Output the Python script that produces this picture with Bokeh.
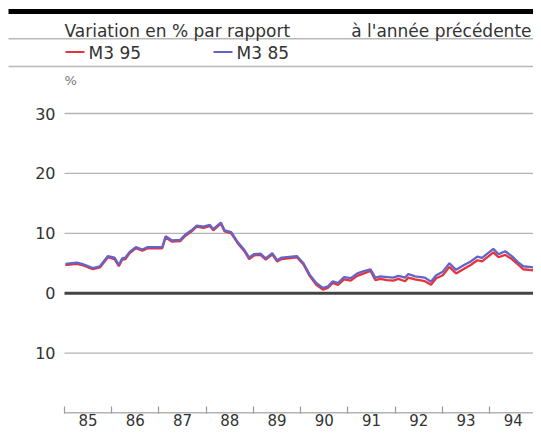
from bokeh.plotting import figure
from bokeh.models import Range1d, FixedTicker
from bokeh.core.properties import value
from bokeh.embed import file_html
from bokeh.resources import INLINE

# ---------------- data ----------------
years = [1985.02, 1985.26, 1985.37, 1985.60, 1985.75, 1985.92, 1986.06, 1986.15, 1986.22, 1986.29,
         1986.38, 1986.51, 1986.65, 1986.76, 1987.07, 1987.14, 1987.28, 1987.45, 1987.56, 1987.69,
         1987.80, 1987.94, 1988.08, 1988.15, 1988.31, 1988.39, 1988.53, 1988.67, 1988.81, 1988.91,
         1989.01, 1989.15, 1989.26, 1989.40, 1989.50, 1989.60, 1989.92, 1990.06, 1990.19, 1990.33,
         1990.47, 1990.58, 1990.68, 1990.79, 1990.92, 1991.06, 1991.20, 1991.34, 1991.48, 1991.58,
         1991.69, 1991.83, 1991.96, 1992.07, 1992.21, 1992.28, 1992.42, 1992.63, 1992.76, 1992.87,
         1993.01, 1993.15, 1993.29, 1993.46, 1993.60, 1993.74, 1993.84, 1994.08, 1994.19, 1994.33,
         1994.47, 1994.60, 1994.71, 1994.92]

m3_85 = [4.9, 5.1, 4.9, 4.2, 4.5, 6.2, 5.95, 4.7, 5.8, 5.95,
         6.9, 7.7, 7.3, 7.7, 7.7, 9.5, 8.8, 8.9, 9.8, 10.5,
         11.3, 11.1, 11.4, 10.7, 11.8, 10.5, 10.2, 8.5, 7.2, 5.95,
         6.5, 6.6, 5.8, 6.7, 5.5, 5.95, 6.2, 5.0, 3.1, 1.7,
         0.9, 1.15, 2.0, 1.7, 2.7, 2.5, 3.3, 3.7, 4.0, 2.6,
         2.8, 2.7, 2.6, 2.9, 2.6, 3.2, 2.8, 2.6, 1.9, 3.0,
         3.6, 5.0, 3.9, 4.7, 5.3, 6.1, 5.9, 7.4, 6.5, 7.0,
         6.2, 5.2, 4.5, 4.3]

m3_95 = [4.7, 4.9, 4.7, 4.0, 4.3, 6.0, 5.7, 4.5, 5.6, 5.7,
         6.7, 7.5, 7.1, 7.5, 7.5, 9.3, 8.6, 8.7, 9.6, 10.3,
         11.1, 10.9, 11.2, 10.5, 11.6, 10.3, 10.0, 8.3, 7.0, 5.7,
         6.3, 6.4, 5.6, 6.5, 5.3, 5.7, 6.0, 4.8, 2.9, 1.4,
         0.6, 0.9, 1.7, 1.4, 2.3, 2.1, 2.9, 3.3, 3.7, 2.2,
         2.4, 2.2, 2.1, 2.4, 2.0, 2.6, 2.3, 2.0, 1.4, 2.5,
         3.0, 4.4, 3.3, 4.1, 4.7, 5.5, 5.3, 6.8, 6.0, 6.4,
         5.7, 4.8, 4.0, 3.8]

series_names = ["M3 95", "M3 85"]
series_colors = ["#e8333d", "#6464c8"]

year_starts = [1985, 1986, 1987, 1988, 1989, 1990, 1991, 1992, 1993, 1994, 1995]
year_labels = ["85", "86", "87", "88", "89", "90", "91", "92", "93", "94"]

y_ticks = [-10, 0, 10, 20, 30]
y_tick_labels = ["10", "0", "10", "20", "30"]

title_left = "Variation en % par rapport"
title_right = "à l'année précédente"
unit_label = "%"

# ---------------- layout (pixels -> data mapping) ----------------
FONT = value("DejaVu Sans")
TEXT = "#333333"
W, H = 533, 431
BB = 18                              # bottom border for the x-axis labels
FRAME_H = H - BB
X0, X1 = 1985.0, 1994.93             # chart extent in years
CHART_LEFT = 64                      # px where 1985 sits
XPP = (X1 - X0) / (W - CHART_LEFT)   # years per px
XL = X0 - CHART_LEFT * XPP
Y_REF_V, Y_REF_PX = 30.0, 113.0      # value 30 at this px
Y_BOT_V = -20.0
PPU = (FRAME_H - 0.5 - Y_REF_PX) / (Y_REF_V - Y_BOT_V)   # px per unit
YT = Y_REF_V + Y_REF_PX / PPU
YB = Y_REF_V - (FRAME_H - Y_REF_PX) / PPU


def X(px):
    return XL + px * XPP


def Y(py):
    return Y_REF_V + (Y_REF_PX - py) / PPU


p = figure(width=W, height=H, x_range=Range1d(XL, X1), y_range=Range1d(YB, YT),
           output_backend="svg", toolbar_location=None, y_axis_location=None,
           min_border_left=0, min_border_right=0, min_border_top=0, min_border_bottom=BB,
           outline_line_color=None)
p.grid.visible = False

# ---- header: rules, title, legend ----
p.segment(x0=[X(8)], x1=[X(W)], y0=[Y(11)], y1=[Y(11)], line_color="black", line_width=5)
p.segment(x0=[X(8)] * 2, x1=[X(W)] * 2, y0=[Y(38.3), Y(66)], y1=[Y(38.3), Y(66)],
          line_color="#b8b8b8", line_width=1.5)

p.text(x=[X(64)], y=[Y(30)], text=[title_left], text_font=FONT, text_font_size="17px",
       text_color=TEXT, text_baseline="alphabetic")
p.text(x=[X(531)], y=[Y(30)], text=[title_right], text_font=FONT, text_font_size="17px",
       text_color=TEXT, text_baseline="alphabetic", text_align="right")

leg_px = [65, 213]
for i, (name, col) in enumerate(zip(series_names, series_colors)):
    p.segment(x0=[X(leg_px[i])], x1=[X(leg_px[i] + 19)], y0=[Y(51.5)], y1=[Y(51.5)],
              line_color=col, line_width=2)
    p.text(x=[X(leg_px[i] + 23)], y=[Y(52)], text=[name], text_font=FONT,
           text_font_size="17px", text_color=TEXT, text_baseline="middle")

p.text(x=[X(64)], y=[Y(80)], text=[unit_label], text_font=FONT, text_font_size="13px",
       text_color="#777777", text_baseline="middle")

# ---- horizontal grid + zero line ----
grid_vals = [t for t in y_ticks if t != 0]
p.segment(x0=[X0] * len(grid_vals), x1=[X1] * len(grid_vals), y0=grid_vals, y1=grid_vals,
          line_color="#b4b4b4", line_width=1.3)
p.segment(x0=[X0], x1=[X1], y0=[0], y1=[0], line_color="#444444", line_width=3)

# ---- y tick labels (left of the chart area) ----
p.text(x=[X0] * len(y_ticks), y=y_ticks, text=y_tick_labels, x_offset=-9,
       text_align="right", text_baseline="middle", text_font=FONT,
       text_font_size="16px", text_color=TEXT)

# ---- x axis: line at -20, ticks at year boundaries, labels mid-year ----
p.segment(x0=[X0], x1=[X1], y0=[Y_BOT_V], y1=[Y_BOT_V], line_color="#999999", line_width=1.5)
mids = [y + 0.5 for y in year_starts[:-1]]
p.xaxis.ticker = FixedTicker(ticks=mids, minor_ticks=year_starts)
p.xaxis.major_label_overrides = {m: s for m, s in zip(mids, year_labels)}
p.xaxis.axis_line_color = None
p.xaxis.major_tick_line_color = None
p.xaxis.major_tick_in = 0
p.xaxis.major_tick_out = 0
p.xaxis.minor_tick_line_color = "#999999"
p.xaxis.minor_tick_line_width = 1.2
p.xaxis.minor_tick_in = 7
p.xaxis.minor_tick_out = 0
p.xaxis.major_label_standoff = 0
p.xaxis.major_label_text_font = "DejaVu Sans"
p.xaxis.major_label_text_font_size = "15px"
p.xaxis.major_label_text_color = TEXT

# ---- series ----
p.line(years, m3_95, line_color=series_colors[0], line_width=2.3)
p.line(years, m3_85, line_color=series_colors[1], line_width=2.3)

open("out.html", "w").write(file_html(p, INLINE))
